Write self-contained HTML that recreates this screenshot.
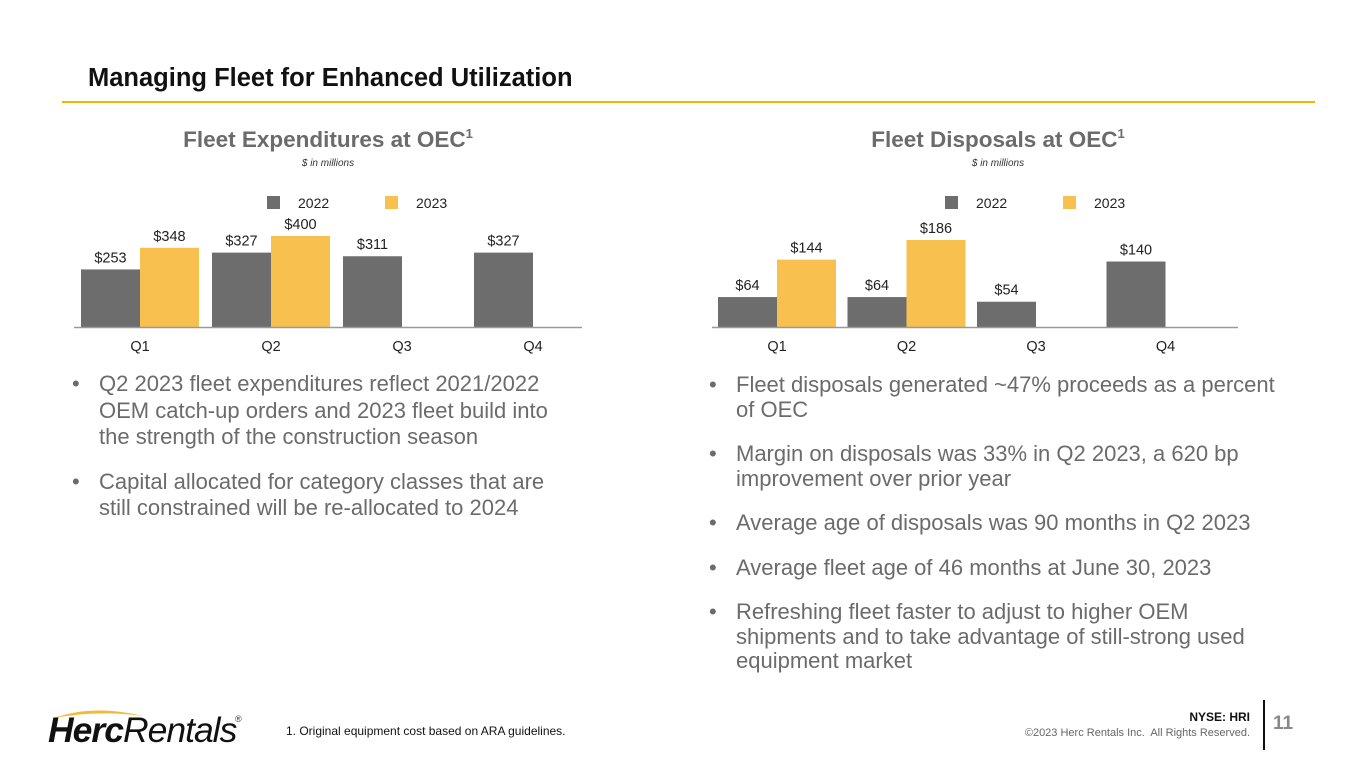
<!DOCTYPE html>
<html><head><meta charset="utf-8"><style>
body{margin:0;background:#fff;font-family:"Liberation Sans",sans-serif;}
#page{position:relative;width:1365px;height:769px;overflow:hidden;background:#fff;}
.abs{position:absolute;}
.title{left:88px;top:64px;font-size:25.5px;font-weight:bold;color:#111;white-space:nowrap;}
.bul{font-size:22px;color:#6b6b6b;line-height:24.5px;}
.bul div{position:relative;padding-left:27px;margin-bottom:20px;}
.bul div:before{content:"•";position:absolute;left:0;}
.bl{line-height:26.5px;}
.bl div{margin-bottom:18px;}
</style></head><body>
<div id="page">
<div class="abs title">Managing Fleet for Enhanced Utilization</div>
<div class="abs" style="left:62px;top:101px;width:1253px;height:1.5px;background:#f5b400"></div>
<svg class="abs" style="left:0;top:0" width="1365" height="769">
<g id="c1"></g>
<g id="c2"></g>
</svg>
<div class="abs bul bl" style="left:72px;top:371px;width:495px">
<div>Q2 2023 fleet expenditures reflect 2021/2022 OEM catch-up orders and 2023 fleet build into the strength of the construction season</div>
<div>Capital allocated for category classes that are still constrained will be re-allocated to 2024</div>
</div>
<div class="abs bul" style="left:709px;top:373px;width:576px">
<div>Fleet disposals generated ~47% proceeds as a percent of OEC</div>
<div>Margin on disposals was 33% in Q2 2023, a 620 bp improvement over prior year</div>
<div>Average age of disposals was 90 months in Q2 2023</div>
<div>Average fleet age of 46 months at June 30, 2023</div>
<div>Refreshing fleet faster to adjust to higher OEM shipments and to take advantage of still-strong used equipment market</div>
</div>
<div class="abs" style="left:48px;top:706px;">
<svg width="200" height="40" style="position:absolute;left:0;top:0"><path d="M6 12 Q45 -2 95 10 Q50 4 6 12Z" fill="#f5b935"/></svg>
<span style="position:absolute;left:0;top:4px;font-size:35.5px;font-style:italic;color:#111;white-space:nowrap;letter-spacing:-1px"><b>Herc</b>Rentals</span>
<span style="position:absolute;left:187px;top:8px;font-size:9px;color:#333">®</span>
</div>
<div class="abs" style="left:286px;top:724px;font-size:12px;color:#111">1. Original equipment cost based on ARA guidelines.</div>
<div class="abs" style="right:115px;top:710px;font-size:12px;font-weight:bold;color:#111;text-align:right">NYSE: HRI</div>
<div class="abs" style="right:115px;top:727px;font-size:11px;color:#666;text-align:right">©2023 Herc Rentals Inc.&nbsp; All Rights Reserved.</div>
<div class="abs" style="left:1263px;top:700px;width:2px;height:50px;background:#111"></div>
<div class="abs" style="left:1273px;top:713px;font-size:19px;font-weight:bold;color:#888">11</div>
</div>
<script>
const categories = ["Q1","Q2","Q3","Q4"];
const expenditures2022 = [253,327,311,327];
const expenditures2023 = [348,400,null,null];
const disposals2022 = [64,64,54,140];
const disposals2023 = [144,186,null,null];
const seriesNames = ["2022","2023"];
const NS="http://www.w3.org/2000/svg";
function mk(p,tag,a,txt){const e=document.createElementNS(NS,tag);for(const k in a)e.setAttribute(k,a[k]);if(txt!=null)e.textContent=txt;p.appendChild(e);return e;}
function chart(g,cfg,d22,d23){
  const x0=cfg.x0, base=327, gw=cfg.gw, bw=59;
  const y=v=>base-v*cfg.scale;
  let t=mk(g,'text',{x:cfg.cx,y:147,'text-anchor':'middle','font-size':22.5,'font-weight':'bold',fill:'#6b6b6b'},cfg.title);
  
  mk(t,'tspan',{'font-size':13,dy:-9},'1');
  t=mk(g,'text',{x:cfg.cx,y:166,'text-anchor':'middle','font-size':10,'font-style':'italic',fill:'#333'},'$ in millions');
  
  const cols=['#6d6d6d','#f8c04f'];
  seriesNames.forEach((s,i)=>{
    const lx=cfg.lx+i*118;
    let r=mk(g,'rect',{x:lx,y:196,width:13,height:13,fill:cols[i]});
    
    let l=mk(g,'text',{x:lx+31,y:208,'font-size':14,fill:'#222'},s);
    
  });
  categories.forEach((c,i)=>{
    const gx=x0+i*gw;
    [d22[i],d23[i]].forEach((v,j)=>{
      if(v==null)return;
      const bx=gx+j*bw;
      let r=mk(g,'rect',{x:bx,y:y(v),width:bw,height:base-y(v),fill:cols[j]});
      
      let l=mk(g,'text',{x:bx+bw/2,y:y(v)-7,'text-anchor':'middle','font-size':14.5,fill:'#222'},'$'+v);
      
    });
    let l=mk(g,'text',{x:gx+bw,y:351,'text-anchor':'middle','font-size':14.5,fill:'#222'},c);
    
  });
  let a=mk(g,'line',{x1:cfg.ax0,x2:cfg.ax1,y1:base+0.5,y2:base+0.5,stroke:'#999','stroke-width':1.5});
  
}
chart(document.getElementById('c1'),{x0:81,gw:131,scale:91/400,cx:328,lx:267,ax0:74,ax1:582,title:'Fleet Expenditures at OEC'},expenditures2022,expenditures2023);
chart(document.getElementById('c2'),{x0:718,gw:129.5,scale:87/186,cx:998,lx:945,ax0:712,ax1:1238,title:'Fleet Disposals at OEC'},disposals2022,disposals2023);
</script>
</body></html>
